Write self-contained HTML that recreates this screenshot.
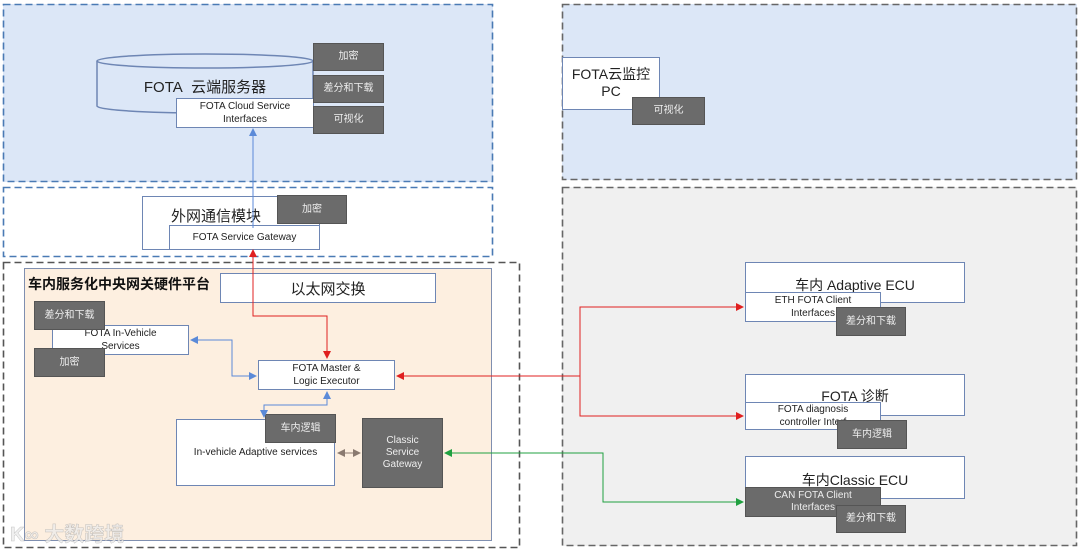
<!DOCTYPE html>
<html><head><meta charset="utf-8"><style>
body{margin:0;width:1080px;height:552px;position:relative;background:#fff;overflow:hidden;font-family:"Liberation Sans","Noto Sans CJK SC",sans-serif;}
div{position:absolute;box-sizing:border-box;}
.w{background:#fff;border:1.5px solid #6e86b4;text-align:center;color:#222;}
.d{background:#6b6b6b;border:1px solid #555;color:#eee;font-size:10px;display:flex;align-items:center;justify-content:center;text-align:center;line-height:12px;}
.c{display:flex;align-items:center;justify-content:center;text-align:center;}
</style></head><body>
<div style="left:3px;top:4px;width:490px;height:178px;background:#dce7f7"></div>
<div style="left:24px;top:268px;width:468px;height:273px;background:#fdefe0;border:1.5px solid #7f8fb0"></div>
<div style="left:562px;top:4px;width:515px;height:176px;background:#dce7f7"></div>
<div style="left:562px;top:187px;width:515px;height:359px;background:#f0f0f0"></div>
<svg style="position:absolute;left:0;top:0" width="1080" height="552">
<g fill="none" stroke-width="1.6" stroke-dasharray="7,4">
<rect x="3.5" y="4.5" width="489" height="177" stroke="#4a7ab4"/>
<rect x="3.5" y="187.5" width="489" height="69" stroke="#4a7ab4"/>
<rect x="3.5" y="262.5" width="516" height="285" stroke="#555"/>
<rect x="562.5" y="4.5" width="514" height="175" stroke="#666"/>
<rect x="562.5" y="187.5" width="514" height="358" stroke="#666"/>
</g>
</svg>

<svg style="position:absolute;left:0;top:0" width="1080" height="552">
<defs>
<marker id="r" markerWidth="8" markerHeight="8" refX="7" refY="4" orient="auto"><path d="M0,0L8,4L0,8z" fill="#e02020"/></marker>
<marker id="b" markerWidth="8" markerHeight="8" refX="7" refY="4" orient="auto-start-reverse"><path d="M0,0L8,4L0,8z" fill="#5b8ad8"/></marker>
<marker id="g" markerWidth="8" markerHeight="8" refX="7" refY="4" orient="auto-start-reverse"><path d="M0,0L8,4L0,8z" fill="#20a040"/></marker>
<marker id="k" markerWidth="8" markerHeight="8" refX="7" refY="4" orient="auto-start-reverse"><path d="M0,0L8,4L0,8z" fill="#8a7a70"/></marker>
</defs>
<path d="M97,61 V106 A108,7 0 0 0 313,106 V61" fill="#dce7f7" stroke="#6e86b4" stroke-width="1.5"/>
<ellipse cx="205" cy="61" rx="108" ry="7" fill="#dce7f7" stroke="#6e86b4" stroke-width="1.5"/>
</svg>
<div style="left:97px;top:76px;width:216px;font-size:15px;text-align:center;color:#222">FOTA&nbsp; 云端服务器</div>
<div class="w" style="left:176px;top:98px;width:138px;height:30px;font-size:10px;line-height:13px;padding-top:1px">FOTA Cloud Service<br>Interfaces</div>
<div class="d" style="left:313px;top:43px;width:71px;height:28px">加密</div>
<div class="d" style="left:313px;top:75px;width:71px;height:28px">差分和下载</div>
<div class="d" style="left:313px;top:106px;width:71px;height:28px">可视化</div>

<div class="w" style="left:562px;top:57px;width:98px;height:53px;font-size:14px;line-height:17px;padding-top:8px">FOTA云监控<br>PC</div>
<div class="d" style="left:632px;top:97px;width:73px;height:28px">可视化</div>

<div class="w" style="left:142px;top:196px;width:178px;height:54px;font-size:15px;padding-top:8px;padding-right:30px">外网通信模块</div>
<div class="w" style="left:169px;top:225px;width:151px;height:25px;font-size:10px;line-height:23px">FOTA Service Gateway</div>
<div class="d" style="left:277px;top:195px;width:70px;height:29px">加密</div>

<div style="left:28px;top:274px;font-size:14px;font-weight:bold;color:#111">车内服务化中央网关硬件平台</div>
<div class="w c" style="left:220px;top:273px;width:216px;height:30px;font-size:15px">以太网交换</div>
<div style="left:52px;top:320px;width:1px;height:35px;background:#444"></div>
<div class="w" style="left:52px;top:325px;width:137px;height:30px;font-size:10px;line-height:13px;padding-top:1px">FOTA In-Vehicle<br>Services</div>
<div class="d" style="left:34px;top:301px;width:71px;height:29px">差分和下载</div>
<div class="d" style="left:34px;top:348px;width:71px;height:29px">加密</div>
<div class="w" style="left:258px;top:360px;width:137px;height:30px;font-size:10px;line-height:13px;padding-top:1px">FOTA Master &amp;<br>Logic Executor</div>
<div class="w" style="left:176px;top:419px;width:159px;height:67px;font-size:10px;padding-top:27px">In-vehicle Adaptive services</div>
<div class="d" style="left:265px;top:414px;width:71px;height:29px">车内逻辑</div>
<div class="d" style="left:362px;top:418px;width:81px;height:70px">Classic<br>Service<br>Gateway</div>

<div class="w" style="left:745px;top:262px;width:220px;height:41px;font-size:14px;padding-top:12px">车内 Adaptive ECU</div>
<div class="w" style="left:745px;top:292px;width:136px;height:30px;font-size:10px;line-height:13px;padding-top:1px">ETH FOTA Client<br>Interfaces</div>
<div class="d" style="left:836px;top:307px;width:70px;height:29px">差分和下载</div>
<div class="w" style="left:745px;top:374px;width:220px;height:42px;font-size:14px;padding-top:11px">FOTA 诊断</div>
<div class="w" style="left:745px;top:402px;width:136px;height:28px;font-size:10px;line-height:13px;padding-top:0">FOTA diagnosis<br>controller Interf</div>
<div class="d" style="left:837px;top:420px;width:70px;height:29px">车内逻辑</div>
<div class="w" style="left:745px;top:456px;width:220px;height:43px;font-size:14px;padding-top:13px">车内Classic ECU</div>
<div class="d" style="left:745px;top:487px;width:136px;height:30px">CAN FOTA Client<br>Interfaces</div>
<div class="d" style="left:836px;top:505px;width:70px;height:28px">差分和下载</div>

<svg style="position:absolute;left:0;top:0" width="1080" height="552">
<g fill="none" stroke-width="1">
<path d="M253,228 V129" stroke="#5b8ad8" marker-end="url(#b)"/>
<path d="M253,250 V316 H327 V358" stroke="#e02020" marker-end="url(#r)"/>
<path d="M253,257 V250" stroke="#e02020" marker-end="url(#r)"/>
<path d="M580,376 H397" stroke="#e02020" marker-end="url(#r)"/>
<path d="M580,376 V307 H743" stroke="#e02020" marker-end="url(#r)"/>
<path d="M580,376 V416 H743" stroke="#e02020" marker-end="url(#r)"/>
<path d="M191,340 H232 V376 H256" stroke="#5b8ad8" marker-start="url(#b)" marker-end="url(#b)"/>
<path d="M327,392 V405 H264 V417" stroke="#5b8ad8" marker-start="url(#b)" marker-end="url(#b)"/>
<path d="M338,453 H360" stroke="#8a7a70" marker-start="url(#k)" marker-end="url(#k)"/>
<path d="M445,453 H603 V502 H743" stroke="#20a040" marker-start="url(#g)" marker-end="url(#g)"/>
</g></svg>
<div style="left:10px;top:518px;font-size:20px;color:rgba(235,235,235,0.75);font-weight:bold;-webkit-text-stroke:0.5px rgba(150,150,150,0.5)">K∞ 大数跨境</div>
</body></html>
